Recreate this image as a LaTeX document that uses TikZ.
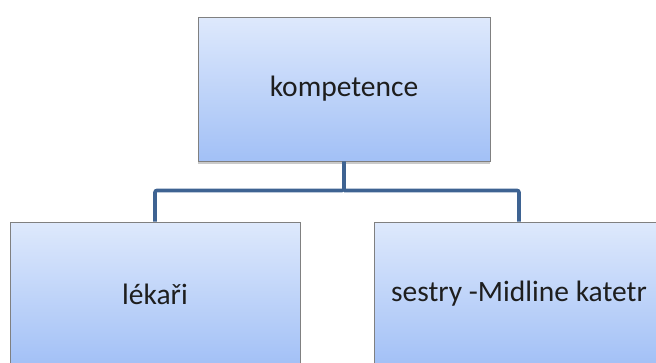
\documentclass[tikz,border=0pt]{standalone}
\usepackage{fontspec}
\setmainfont{Carlito}
\usetikzlibrary{shadows}
\definecolor{boxtop}{RGB}{222,233,252}
\definecolor{boxbottom}{RGB}{162,192,246}
\definecolor{boxline}{RGB}{128,128,128}
\definecolor{linkblue}{RGB}{62,99,146}
\definecolor{labeltext}{RGB}{30,30,30}
\begin{document}
\begin{tikzpicture}[x=1pt,y=-1pt,
  orgbox/.style={draw=boxline, line width=0.9pt, top color=boxtop, bottom color=boxbottom,
    minimum width=#1, minimum height=144pt, inner sep=0pt, text=labeltext,
    font=\fontsize{29.5}{34}\selectfont,
    drop shadow={shadow xshift=0pt, shadow yshift=-3pt, opacity=0.35, fill=black!60}},
  link/.style={draw=linkblue, line width=3.6pt, rounded corners=2pt}]
  \useasboundingbox (0,0) rectangle (656,362);
  \clip (0,0) rectangle (656,362);
  \node[orgbox=292pt] (top) at (344,89) {kompetence};
  \node[orgbox=290pt] (left) at (155,294) {lékaři};
  \node[orgbox=290pt] (right) at (519,294) {sestry -Midline katetr};
  \draw[link] (top.south) -- ++(0,29) coordinate (hub) -| (left.north);
  \draw[link] (hub) -| (right.north);
\end{tikzpicture}
\end{document}
